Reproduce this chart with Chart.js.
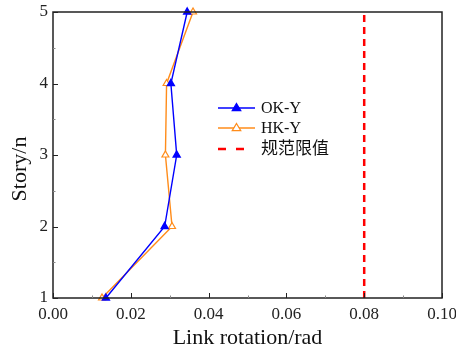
<!DOCTYPE html>
<html>
<head>
<meta charset="utf-8">
<script src="https://cdn.jsdelivr.net/npm/chart.js@4.4.1/dist/chart.umd.min.js"></script>
<style>
  html, body { margin: 0; padding: 0; background: #fff; }
  #wrap { width: 456px; height: 351px; }
</style>
</head>
<body>
<div id="wrap"><canvas id="c" width="456" height="351"></canvas></div>
<script>
// Story levels and link rotation per story (rad)
const stories = [1, 2, 3, 4, 5];
const okY = [0.0136, 0.0287, 0.0318, 0.0303, 0.0345];
const hkY = [0.0126, 0.0306, 0.0289, 0.0292, 0.0360];
const limitValue = 0.08;
const limitStories = [1, 5];

const xTicks = [0, 0.02, 0.04, 0.06, 0.08, 0.10];
const xMinorTicks = [0.01, 0.03, 0.05, 0.07, 0.09];
const yTicks = [1, 2, 3, 4, 5];
const yMinorTicks = [1.5, 2.5, 3.5, 4.5];

const seriesNames = ['OK-Y', 'HK-Y', '规范限值'];
const xTitle = 'Link rotation/rad';
const yTitle = 'Story/n';

const SERIF = '"Liberation Serif", "Times New Roman", serif';
const CJK = '"Liberation Serif", "Noto Sans CJK SC", sans-serif';

const toPoints = (xs, ys) => xs.map((v, i) => ({ x: v, y: ys[i] }));

// Frame, inward ticks, axis titles and in-plot legend
const framePlugin = {
  id: 'frame',
  afterDraw(chart) {
    const { ctx, chartArea: a, scales: { x, y } } = chart;
    ctx.save();
    ctx.strokeStyle = '#222';
    ctx.lineWidth = 1.5;
    ctx.strokeRect(a.left, a.top, a.right - a.left, a.bottom - a.top);

    ctx.lineWidth = 1;
    ctx.beginPath();
    xTicks.forEach(v => { const p = Math.round(x.getPixelForValue(v)) + 0.5; ctx.moveTo(p, a.bottom); ctx.lineTo(p, a.bottom - 5); });
    yTicks.forEach(v => { const p = Math.round(y.getPixelForValue(v)) + 0.5; ctx.moveTo(a.left, p); ctx.lineTo(a.left + 5, p); });
    ctx.stroke();
    ctx.strokeStyle = '#888';
    ctx.beginPath();
    xMinorTicks.forEach(v => { const p = Math.round(x.getPixelForValue(v)) + 0.5; ctx.moveTo(p, a.bottom); ctx.lineTo(p, a.bottom - 2.5); });
    yMinorTicks.forEach(v => { const p = Math.round(y.getPixelForValue(v)) + 0.5; ctx.moveTo(a.left, p); ctx.lineTo(a.left + 2.5, p); });
    ctx.stroke();

    // Axis titles
    ctx.fillStyle = '#111';
    ctx.font = '22px ' + SERIF;
    ctx.textAlign = 'center';
    ctx.textBaseline = 'middle';
    ctx.fillText(xTitle, (a.left + a.right) / 2, 338);
    ctx.save();
    ctx.translate(20, 169);
    ctx.rotate(-Math.PI / 2);
    ctx.fillText(yTitle, 0, 0);
    ctx.restore();

    // Legend
    const ds = chart.data.datasets;
    const lx0 = 218, lx1 = 255, tx = 261;
    const rows = [108, 128, 149];
    ds.forEach((d, i) => {
      const ry = rows[i];
      ctx.strokeStyle = d.borderColor;
      ctx.lineWidth = d.borderWidth;
      ctx.beginPath();
      if (d.borderDash) {
        ctx.moveTo(lx0, ry); ctx.lineTo(lx0 + 8, ry);
        ctx.moveTo(lx0 + 18, ry); ctx.lineTo(lx0 + 26, ry);
      } else {
        ctx.moveTo(lx0, ry); ctx.lineTo(lx1, ry);
      }
      ctx.stroke();
      if (d.pointRadius > 0) {
        const cx = (lx0 + lx1) / 2, r = d.pointRadius + 0.5;
        ctx.beginPath();
        ctx.moveTo(cx, ry - r);
        ctx.lineTo(cx + r * 0.95, ry + r * 0.6);
        ctx.lineTo(cx - r * 0.95, ry + r * 0.6);
        ctx.closePath();
        ctx.fillStyle = d.pointBackgroundColor;
        ctx.fill();
        ctx.lineWidth = 1.2;
        ctx.strokeStyle = d.pointBorderColor;
        ctx.stroke();
      }
      ctx.fillStyle = '#111';
      ctx.textAlign = 'left';
      ctx.textBaseline = 'middle';
      ctx.font = (i === 2 ? '17px ' + CJK : '16px ' + SERIF);
      ctx.fillText(seriesNames[i], tx, ry + 1);
    });
    ctx.restore();
  }
};

new Chart(document.getElementById('c'), {
  type: 'scatter',
  data: {
    datasets: [
      {
        label: seriesNames[0],
        data: toPoints(okY, stories),
        showLine: true,
        borderColor: '#0000ff',
        borderWidth: 1.4,
        pointStyle: 'triangle',
        pointRadius: 4,
        pointBackgroundColor: '#0000ff',
        pointBorderColor: '#0000ff',
        clip: false
      },
      {
        label: seriesNames[1],
        data: toPoints(hkY, stories),
        showLine: true,
        borderColor: '#ff8c1a',
        borderWidth: 1.4,
        pointStyle: 'triangle',
        pointRadius: 4,
        pointBorderWidth: 1.2,
        pointBackgroundColor: '#ffffff',
        pointBorderColor: '#ff8c1a',
        clip: false
      },
      {
        label: seriesNames[2],
        data: limitStories.map(s => ({ x: limitValue, y: s })),
        showLine: true,
        borderColor: '#ff0000',
        borderWidth: 2.5,
        borderDash: [7, 5],
        pointRadius: 0,
        clip: false
      }
    ]
  },
  options: {
    responsive: false,
    animation: false,
    layout: { padding: { top: 12, right: 14, left: 0, bottom: 0 } },
    plugins: { legend: { display: false }, tooltip: { enabled: false } },
    scales: {
      x: {
        type: 'linear',
        min: 0, max: 0.10,
        afterFit: s => { s.height = 53; s.paddingLeft = 0; s.paddingRight = 0; },
        afterBuildTicks: s => { s.ticks = xTicks.map(v => ({ value: v })); },
        grid: { display: false, drawTicks: false },
        border: { display: false },
        ticks: {
          color: '#222',
          padding: 6,
          maxRotation: 0,
          font: { family: SERIF, size: 17 },
          callback: v => Number(v).toFixed(2)
        }
      },
      y: {
        type: 'linear',
        min: 1, max: 5,
        afterFit: s => { s.width = 53; s.paddingTop = 0; s.paddingBottom = 0; },
        afterBuildTicks: s => { s.ticks = yTicks.map(v => ({ value: v })); },
        grid: { display: false, drawTicks: false },
        border: { display: false },
        ticks: {
          color: '#222',
          padding: 5,
          font: { family: SERIF, size: 17 },
          callback: v => String(v)
        }
      }
    }
  },
  plugins: [framePlugin]
});
</script>
</body>
</html>
